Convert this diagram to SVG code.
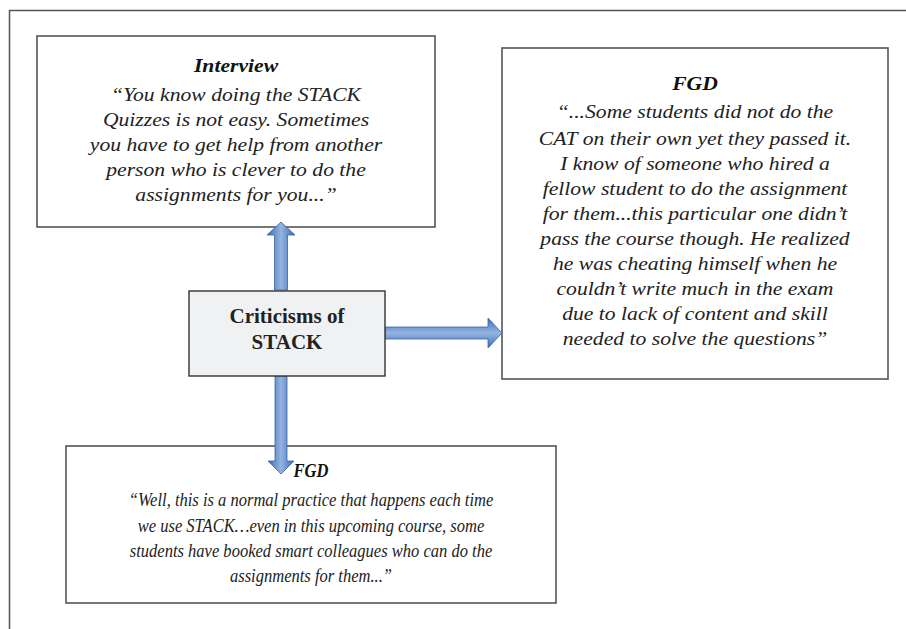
<svg xmlns="http://www.w3.org/2000/svg" width="906" height="629" viewBox="0 0 906 629">
<defs>
<linearGradient id="gv" x1="0" y1="0" x2="1" y2="0">
<stop offset="0" stop-color="#3B6CB3"/><stop offset="0.5" stop-color="#94B4E0"/><stop offset="1" stop-color="#3B6CB3"/>
</linearGradient>
<linearGradient id="gh" x1="0" y1="0" x2="0" y2="1">
<stop offset="0" stop-color="#3B6CB3"/><stop offset="0.5" stop-color="#94B4E0"/><stop offset="1" stop-color="#3B6CB3"/>
</linearGradient>
<style>
.box{fill:#fff;stroke:#555;stroke-width:1.6}
.center{fill:#F0F1F3;stroke:#333;stroke-width:1.4}
.t{font-family:"Liberation Serif","Times New Roman",serif;font-size:18.5px;font-style:italic;fill:#222;text-anchor:middle}
.b{font-size:19px}
.h{font-weight:bold;fill:#111}
.c{font-family:"Liberation Serif","Times New Roman",serif;font-size:21px;font-weight:bold;fill:#222;text-anchor:middle}
.arr{stroke:#3565AA;stroke-width:0.8}
</style>
</defs>
<rect x="9.5" y="10.5" width="910" height="640" fill="#fff" stroke="#555" stroke-width="1.5"/>
<g id="interview">
<rect class="box" x="37" y="36" width="398" height="191"/>
<g transform="translate(236,0) scale(1.17,1)">
<text class="t h" x="0" y="72">Interview</text>
<text class="t" x="0" y="101">“You know doing the STACK</text>
<text class="t" x="0" y="126">Quizzes is not easy. Sometimes</text>
<text class="t" x="0" y="151">you have to get help from another</text>
<text class="t" x="0" y="176">person who is clever to do the</text>
<text class="t" x="0" y="201">assignments for you...”</text>
</g>
</g>
<g id="fgd-right">
<rect class="box" x="502" y="48" width="386" height="331"/>
<g transform="translate(695,0) scale(1.17,1)">
<text class="t h" x="0" y="90">FGD</text>
<text class="t" x="0" y="118">“...Some students did not do the</text>
<text class="t" x="0" y="145">CAT on their own yet they passed it.</text>
<text class="t" x="0" y="170">I know of someone who hired a</text>
<text class="t" x="0" y="195">fellow student to do the assignment</text>
<text class="t" x="0" y="220">for them...this particular one didn’t</text>
<text class="t" x="0" y="245">pass the course though. He realized</text>
<text class="t" x="0" y="270">he was cheating himself when he</text>
<text class="t" x="0" y="295">couldn’t write much in the exam</text>
<text class="t" x="0" y="320">due to lack of content and skill</text>
<text class="t" x="0" y="345">needed to solve the questions”</text>
</g>
</g>
<g id="fgd-bottom">
<rect class="box" x="66" y="446" width="490" height="157"/>
<g transform="translate(311,0) scale(0.87,1)">
<text class="t b h" x="0" y="477">FGD</text>
<text class="t b" x="0" y="506">“Well, this is a normal practice that happens each time</text>
<text class="t b" x="0" y="532">we use STACK…even in this upcoming course, some</text>
<text class="t b" x="0" y="557">students have booked smart colleagues who can do the</text>
<text class="t b" x="0" y="582">assignments for them...”</text>
</g>
</g>
<g id="connectors">
<path class="arr" fill="url(#gv)" d="M274.5,290 V235 H267 L281,222 L295,235 H287.5 V290 Z"/>
<path class="arr" fill="url(#gv)" d="M275,376 V461 H268 L281,474 L294,461 H287 V376 Z"/>
<path class="arr" fill="url(#gh)" d="M385,327 H488 V318 L502,333 L488,348 V339 H385 Z"/>
</g>
<g id="criticisms">
<rect class="center" x="189" y="291" width="196" height="85"/>
<text class="c" x="287" y="323">Criticisms of</text>
<text class="c" x="287" y="349">STACK</text>
</g>
</svg>
